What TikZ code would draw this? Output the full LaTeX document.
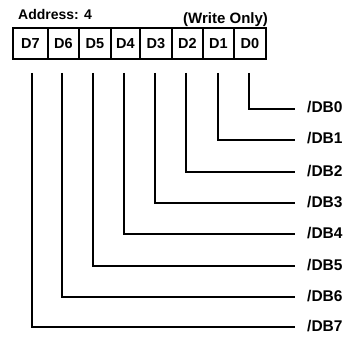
\documentclass[tikz,border=0pt]{standalone}
\usepackage{fontspec}
\setmainfont{Liberation Sans}
\begin{document}
\begin{tikzpicture}[x=1pt,y=-1pt,
  cell/.style={draw, line width=2pt, minimum height=31pt, inner sep=0pt, font=\fontsize{14.5}{16}\selectfont\bfseries},
  lbl/.style={anchor=base west, inner sep=0pt, font=\fontsize{14}{16}\selectfont\bfseries},
  dblbl/.style={lbl, font=\fontsize{15.5}{17}\selectfont\bfseries},
  wire/.style={line width=2pt}]
\useasboundingbox (0,0) rectangle (356,342);
% cells: edges 13,48,79,111,140,172,203,234,266 ; top 28 bottom 59
\node[cell, minimum width=35pt] (d7) at (30.5,43.5) {D7};
\node[cell, minimum width=31pt] (d6) at (63.5,43.5) {D6};
\node[cell, minimum width=32pt] (d5) at (95,43.5) {D5};
\node[cell, minimum width=29pt] (d4) at (125.5,43.5) {D4};
\node[cell, minimum width=32pt] (d3) at (156,43.5) {D3};
\node[cell, minimum width=31pt] (d2) at (187.5,43.5) {D2};
\node[cell, minimum width=31pt] (d1) at (218.5,43.5) {D1};
\node[cell, minimum width=32pt] (d0) at (250,43.5) {D0};
\node[lbl] (addr) at (18,20) {Address: 4};
\node[lbl, font=\fontsize{15}{17}\selectfont\bfseries] (wo) at (183,24) {(Write Only)};
\foreach \i/\x/\y in {0/249/109, 1/218/140, 2/186/172, 3/155/203, 4/124/234, 5/93/266, 6/62/297, 7/32/327} {
  \coordinate (s\i) at (\x,73);
  \coordinate (e\i) at (295,\y);
  \node[dblbl] (db\i) at (307,\y+4) {/DB\i};
  \draw[wire] (s\i) |- (e\i);
}
\end{tikzpicture}
\end{document}
